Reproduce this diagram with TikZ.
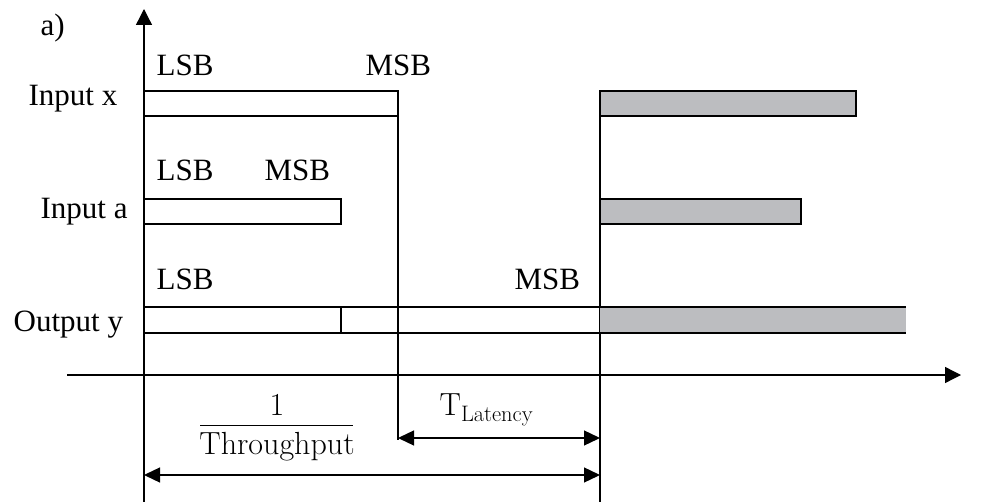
\documentclass[tikz,border=0pt]{standalone}
\usepackage{fontspec}
\newfontfamily\tnr{Liberation Serif}
\usetikzlibrary{arrows.meta}
\definecolor{slot}{HTML}{BCBDC0}
\begin{document}
\begin{tikzpicture}[x=1pt,y=-1pt,line width=1.3pt,
  lbl/.style={anchor=base west,inner sep=0pt,font=\tnr\fontsize{31}{36}\selectfont},
  mathlbl/.style={anchor=base,inner sep=0pt,font=\fontsize{32}{36}\selectfont},
  tip/.style={-{Triangle[length=16pt,width=16pt]}},
  dim/.style={{Triangle[length=16pt,width=15pt]}-{Triangle[length=16pt,width=15pt]}},
  word/.style={draw,line width=1.3pt},
  busy/.style={draw,fill=slot,line width=1.3pt}]
\useasboundingbox (0,0) rectangle (981,502);

% axes
\coordinate (yb) at (144,502);
\coordinate (yt) at (144,9);
\coordinate (xl) at (67,375);
\coordinate (xr) at (961,375);
\draw[tip] (yb) -- (yt);
\draw[tip] (xl) -- (xr);

% time markers
\coordinate (m1t) at (398,91);
\coordinate (m1b) at (398,440);
\coordinate (m2t) at (600,91);
\coordinate (m2b) at (600,502);
\draw (m1t) -- (m1b);
\draw (m2t) -- (m2b);

% first sample
\draw[word] (144,91) rectangle (398,116);
\draw[word] (144,199) rectangle (341,224);
\draw[word] (144,307) rectangle (600,333);
\draw (341,307) -- (341,333);

% next sample
\draw[busy] (600,91) rectangle (856,116);
\draw[busy] (600,199) rectangle (801,224);
\fill[slot] (600,307) rectangle (906,333);
\draw (600,307) -- (906,307);
\draw (600,333) -- (906,333);

% labels
\node[lbl] (a) at (40,36) {a)};
\node[lbl] (ix) at (28,106) {Input x};
\node[lbl] (ia) at (40,219) {Input a};
\node[lbl] (oy) at (13,331) {Output y};
\node[lbl] (l1) at (156,76) {LSB};
\node[lbl] (h1) at (365,76) {MSB};
\node[lbl] (l2) at (156,181) {LSB};
\node[lbl] (h2) at (264,181) {MSB};
\node[lbl] (l3) at (156,289) {LSB};
\node[lbl] (h3) at (514,289) {MSB};

% timing dimensions
\coordinate (lat1) at (398,438);
\coordinate (lat2) at (600,438);
\draw[dim] (lat1) -- (lat2);
\coordinate (thr1) at (144,475);
\coordinate (thr2) at (600,475);
\draw[dim] (thr1) -- (thr2);

\node[mathlbl] (one) at (277,415) {1};
\coordinate (fl) at (200,425);
\coordinate (fr) at (353,425);
\draw[line width=1pt] (fl) -- (fr);
\node[mathlbl] (thr) at (277,454) {Throughput};
\node[anchor=base west,inner sep=0pt,font=\fontsize{32}{36}\selectfont] (tlat) at (439,415) {T\(_{\mathrm{Latency}}\)};
\end{tikzpicture}
\end{document}
